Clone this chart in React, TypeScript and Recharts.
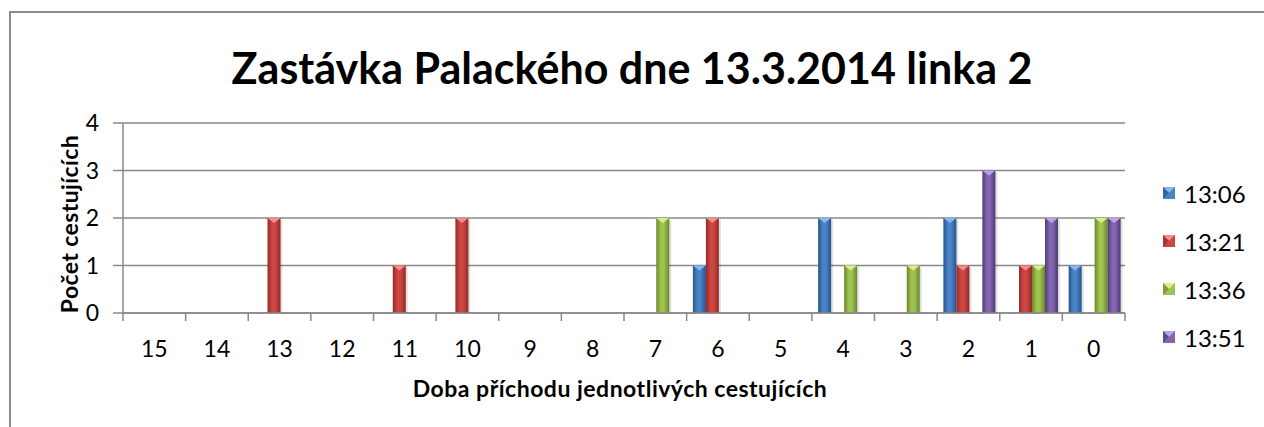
import React from "react";
import { BarChart, Bar, XAxis, YAxis, CartesianGrid } from "recharts";

const categories = ["15", "14", "13", "12", "11", "10", "9", "8", "7", "6", "5", "4", "3", "2", "1", "0"];
const s1306 = [0, 0, 0, 0, 0, 0, 0, 0, 0, 1, 0, 2, 0, 2, 0, 1];
const s1321 = [0, 0, 2, 0, 1, 2, 0, 0, 0, 2, 0, 0, 0, 1, 1, 0];
const s1336 = [0, 0, 0, 0, 0, 0, 0, 0, 2, 0, 0, 1, 1, 0, 1, 2];
const s1351 = [0, 0, 0, 0, 0, 0, 0, 0, 0, 0, 0, 0, 0, 3, 2, 2];
const seriesNames = ["13:06", "13:21", "13:36", "13:51"];
const boundaryTicks = [0, 1, 2, 3, 4, 5, 6, 7, 8, 9, 10, 11, 12, 13, 14, 15, 16];
const yTicks = [0, 1, 2, 3, 4];

const COLORS = [
  { dark: "#25548c", mid: "#4a82c6", light: "#86b8f0" },
  { dark: "#932a27", mid: "#cc4642", light: "#f28e8a" },
  { dark: "#6a862a", mid: "#a0c250", light: "#d6f08c" },
  { dark: "#4f3a74", mid: "#8466b0", light: "#bca4e4" },
];

const data = categories.map((c, i) => ({
  cat: c,
  pos: i + 0.5,
  a: s1306[i],
  b: s1321[i],
  c: s1336[i],
  d: s1351[i],
}));

const FONT = "Lato, 'Open Sans', sans-serif";
const GRID = "#888888";

const makeShape = (idx: number) => (props: any) => {
  const { x, y, width, height } = props;
  if (!height || height <= 0) return <g />;
  const col = COLORS[idx];
  const tri = Math.min(width / 2, 5);
  return (
    <g>
      <rect x={x + 2} y={y + 2} width={width} height={height - 2} fill="#000" opacity={0.12} />
      <rect x={x} y={y} width={width} height={height} fill={`url(#grad${idx})`} />
      <path d={`M${x},${y} L${x + width},${y} L${x + width / 2},${y + tri} Z`} fill={col.light} />
    </g>
  );
};

const keys = ["a", "b", "c", "d"];

export default function App() {
  return (
    <div style={{ position: "absolute", left: 0, top: 0, width: 1264, height: 427, background: "#fff", overflow: "hidden", fontFamily: FONT }}>
      <div style={{ position: "absolute", left: 9, top: 11, width: 1400, height: 600, borderLeft: "2px solid #8a8a8a", borderTop: "2px solid #8a8a8a" }} />
      <div style={{ position: "absolute", left: 0, width: 1264, top: 40, textAlign: "center", fontSize: 43, fontWeight: 700, lineHeight: "56px" }}>
        Zastávka Palackého dne 13.3.2014 linka 2
      </div>
      <div style={{ position: "absolute", left: 69, top: 224, transform: "translate(-50%, -50%) rotate(-90deg)", whiteSpace: "nowrap", fontSize: 23, fontWeight: 700, letterSpacing: 0.4 }}>
        Počet cestujících
      </div>
      <div style={{ position: "absolute", left: 620, top: 388, transform: "translate(-50%, -50%)", whiteSpace: "nowrap", fontSize: 23, fontWeight: 700, letterSpacing: 0.5 }}>
        Doba příchodu jednotlivých cestujících
      </div>
      <div style={{ position: "absolute", left: 1163, top: 169 }}>
        {seriesNames.map((n, i) => (
          <div key={n} style={{ display: "flex", alignItems: "center", height: 48, fontSize: 24 }}>
            <svg width={12} height={12} style={{ marginRight: 9 }}>
              <rect x={0} y={0} width={12} height={12} fill={COLORS[i].mid} />
              <path d="M0,0 L12,0 L6,6 Z" fill={COLORS[i].light} />
              <path d="M0,12 L6,6 L0,0 Z" fill={COLORS[i].dark} opacity={0.6} />
            </svg>
            <span>{n}</span>
          </div>
        ))}
      </div>
      <div style={{ position: "absolute", left: 0, top: 0 }}>
        <BarChart
          width={1264}
          height={427}
          data={data}
          margin={{ top: 123, right: 139, bottom: 83, left: 63 }}
          barCategoryGap="10%"
          barGap={0}
        >
          <defs>
            {COLORS.map((c, i) => (
              <linearGradient key={i} id={`grad${i}`} x1="0" y1="0" x2="1" y2="0">
                <stop offset="0%" stopColor={c.dark} />
                <stop offset="35%" stopColor={c.mid} />
                <stop offset="60%" stopColor={c.mid} />
                <stop offset="100%" stopColor={c.dark} />
              </linearGradient>
            ))}
          </defs>
          <CartesianGrid vertical={false} stroke={GRID} strokeWidth={1.5} xAxisId="cat" />
          <XAxis
            xAxisId="bounds"
            type="number"
            dataKey="pos"
            domain={[0, 16]}
            ticks={boundaryTicks}
            height={1}
            tickSize={8}
            tickFormatter={() => ""}
            axisLine={{ stroke: GRID, strokeWidth: 1.5 }}
            tickLine={{ stroke: GRID, strokeWidth: 1.5 }}
            allowDataOverflow
          />
          <XAxis
            xAxisId="cat"
            dataKey="cat"
            height={30}
            axisLine={false}
            tickLine={false}
            tickSize={8}
            tickMargin={19}
            tick={{ fill: "#000", fontSize: 23, fontFamily: FONT }}
            interval={0}
          />
          <YAxis
            domain={[0, 4]}
            ticks={yTicks}
            width={60}
            tickSize={10}
            tickMargin={14}
            axisLine={{ stroke: GRID, strokeWidth: 1.5 }}
            tickLine={{ stroke: GRID, strokeWidth: 1.5 }}
            tick={{ fill: "#000", fontSize: 23, fontFamily: FONT }}
          />
          {keys.map((k, i) => (
            <Bar
              key={k}
              dataKey={k}
              xAxisId="cat"
              name={seriesNames[i]}
              shape={makeShape(i)}
              isAnimationActive={false}
            />
          ))}
        </BarChart>
      </div>
    </div>
  );
}
